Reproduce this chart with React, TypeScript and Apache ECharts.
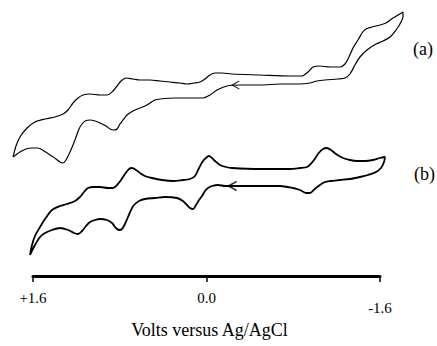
import React, { useEffect, useRef } from "react";
import * as echarts from "echarts";

// Potential (V vs Ag/AgCl), current (arbitrary units, offset per trace)
const curveA: [number, number][] = [
  [1.784, 119], [1.757, 130], [1.72, 139], [1.655, 148], [1.582, 154], [1.489, 157], [1.397, 159],
  [1.323, 162], [1.277, 166], [1.231, 173], [1.185, 178], [1.139, 181], [1.074, 182], [0.982, 181],
  [0.918, 181], [0.862, 185], [0.825, 190], [0.788, 195], [0.742, 198], [0.678, 197], [0.613, 196],
  [0.521, 196], [0.429, 195], [0.337, 194], [0.244, 193], [0.18, 192], [0.115, 193], [0.06, 194],
  [0.014, 197], [-0.032, 201], [-0.078, 203], [-0.143, 203], [-0.235, 202], [-0.493, 201],
  [-0.77, 200], [-0.88, 200], [-0.936, 204], [-0.982, 209], [-1.046, 210], [-1.139, 209],
  [-1.231, 209], [-1.277, 212], [-1.314, 219], [-1.351, 228], [-1.397, 236], [-1.434, 243],
  [-1.471, 247], [-1.526, 249], [-1.6, 251], [-1.655, 253], [-1.72, 258], [-1.766, 261], [-1.812, 264],
  [-1.812, 259], [-1.784, 252], [-1.748, 246], [-1.692, 239], [-1.628, 235], [-1.563, 232],
  [-1.48, 226], [-1.415, 219], [-1.369, 211], [-1.323, 202], [-1.277, 198], [-1.212, 197],
  [-1.093, 196], [-1.019, 195], [-0.952, 193], [-0.862, 192], [-0.678, 192], [-0.493, 191],
  [-0.309, 191], [-0.189, 190], [-0.097, 186], [-0.032, 181], [0.032, 178], [0.152, 178],
  [0.29, 178], [0.429, 177], [0.475, 176], [0.521, 173], [0.567, 170], [0.613, 168], [0.678, 165],
  [0.733, 161], [0.77, 156], [0.798, 152], [0.825, 147], [0.853, 146], [0.89, 147], [0.927, 150],
  [0.982, 153], [1.028, 155], [1.074, 156], [1.12, 155], [1.148, 152], [1.176, 147], [1.203, 139],
  [1.231, 131], [1.259, 124], [1.296, 116], [1.323, 113], [1.351, 114], [1.388, 117], [1.443, 121],
  [1.499, 125], [1.554, 128], [1.609, 128], [1.665, 127], [1.72, 124], [1.784, 119],
];

const curveB: [number, number][] = [
  [1.628, 21], [1.609, 31], [1.582, 40], [1.535, 49], [1.489, 57], [1.425, 66], [1.351, 70],
  [1.286, 72], [1.213, 75], [1.167, 79], [1.13, 84], [1.093, 88], [1.037, 89], [0.982, 89],
  [0.908, 88], [0.862, 88], [0.825, 91], [0.788, 96], [0.752, 102], [0.715, 107], [0.687, 108],
  [0.65, 106], [0.613, 103], [0.567, 100], [0.503, 98], [0.41, 96], [0.309, 95], [0.217, 96],
  [0.152, 97], [0.106, 100], [0.069, 108], [0.032, 115], [-0.005, 119], [-0.023, 120],
  [-0.051, 118], [-0.078, 115], [-0.124, 111], [-0.18, 109], [-0.235, 108], [-0.493, 107],
  [-0.77, 107], [-0.862, 108], [-0.927, 109], [-0.961, 112], [-0.998, 117], [-1.035, 123],
  [-1.074, 127], [-1.111, 128], [-1.148, 126], [-1.194, 122], [-1.259, 118], [-1.323, 116],
  [-1.388, 115], [-1.462, 115], [-1.535, 116], [-1.6, 118], [-1.646, 119],
  [-1.637, 114], [-1.609, 108], [-1.563, 104], [-1.489, 101], [-1.415, 99], [-1.323, 97],
  [-1.231, 96], [-1.139, 95], [-1.093, 94], [-1.046, 91], [-0.998, 87], [-0.952, 83], [-0.918, 83],
  [-0.862, 86], [-0.798, 88], [-0.678, 90], [-0.493, 90], [-0.309, 90], [-0.171, 90], [-0.106, 91],
  [-0.051, 90], [-0.014, 88], [0.014, 85], [0.041, 80], [0.069, 76], [0.097, 71], [0.124, 67],
  [0.152, 68], [0.189, 72], [0.217, 75], [0.272, 78], [0.383, 79], [0.475, 78], [0.567, 77],
  [0.622, 75], [0.669, 71], [0.696, 66], [0.724, 59], [0.752, 52], [0.779, 47], [0.807, 46],
  [0.835, 48], [0.871, 53], [0.918, 56], [0.982, 57], [1.028, 56], [1.074, 54], [1.111, 50],
  [1.148, 45], [1.185, 42], [1.222, 43], [1.277, 46], [1.351, 48], [1.425, 46], [1.489, 43],
  [1.535, 39], [1.582, 31], [1.628, 21],
];

// scan-direction arrow positions
const arrowA: [number, number][] = [[-0.27, 191]];
const arrowB: [number, number][] = [[-0.24, 90]];

const tickLabels: Record<string, string> = { "1.6": "{n|+1.6}", "0": "{n|0.0}", "-1.6": "{low|-1.6}" };
const traceLabels = ["(a)", "(b)"];

const SERIF = "Liberation Serif";

// axis geometry: ±1.6 V spans x = 33 … 380 px; data axis extends to ±1.9 V
const PX_PER_V = 347 / 3.2;
const EXT = 0.3 * PX_PER_V;

export default function App() {
  const ref = useRef<HTMLDivElement>(null);
  useEffect(() => {
    if (!ref.current) return;
    const chart = echarts.init(ref.current, null, { renderer: "svg" });
    const chevron = "path://M10,0 L0,5 L10,10";
    chart.setOption({
      animation: false,
      backgroundColor: "#ffffff",
      textStyle: { fontFamily: SERIF },
      grid: [
        { left: 33, right: 57, top: 0, bottom: 70 },
        { left: 33 - EXT, right: 57 - EXT, top: 0, bottom: 70 },
      ],
      xAxis: [
        {
          type: "value",
          gridIndex: 0,
          min: -1.6,
          max: 1.6,
          interval: 1.6,
          inverse: true,
          name: "Volts versus Ag/AgCl",
          nameLocation: "middle",
          nameGap: 45,
          nameTextStyle: { fontFamily: SERIF, fontSize: 18, color: "#000", padding: [0, 0, 0, 6] },
          axisLine: { show: true, lineStyle: { color: "#000", width: 3 } },
          axisTick: { show: true, length: 6, lineStyle: { color: "#000", width: 1.5 } },
          splitLine: { show: false },
          axisLabel: {
            margin: 14,
            fontFamily: SERIF,
            fontSize: 15,
            color: "#000",
            formatter: (v: number) => tickLabels[String(v)] ?? String(v),
            rich: {
              n: { fontFamily: SERIF, fontSize: 15, color: "#000" },
              low: { fontFamily: SERIF, fontSize: 15, color: "#000", padding: [10, 0, 0, 0] },
            },
          },
        },
        {
          type: "value",
          gridIndex: 1,
          min: -1.9,
          max: 1.9,
          inverse: true,
          show: false,
        },
      ],
      yAxis: [
        { type: "value", gridIndex: 0, min: 0, max: 276, show: false },
        { type: "value", gridIndex: 1, min: 0, max: 276, show: false },
      ],
      series: [
        {
          type: "line",
          xAxisIndex: 1,
          yAxisIndex: 1,
          data: curveA,
          smooth: 0.3,
          showSymbol: false,
          lineStyle: { color: "#000", width: 1.2 },
        },
        {
          type: "line",
          xAxisIndex: 1,
          yAxisIndex: 1,
          data: curveB,
          smooth: 0.3,
          showSymbol: false,
          lineStyle: { color: "#000", width: 1.8 },
        },
        {
          type: "scatter",
          xAxisIndex: 1,
          yAxisIndex: 1,
          data: arrowA,
          symbol: chevron,
          symbolSize: [7, 8],
          itemStyle: { color: "none", borderColor: "#000", borderWidth: 1.3 },
        },
        {
          type: "scatter",
          xAxisIndex: 1,
          yAxisIndex: 1,
          data: arrowB,
          symbol: chevron,
          symbolSize: [8, 9],
          itemStyle: { color: "none", borderColor: "#000", borderWidth: 1.6 },
        },
      ],
      graphic: [
        {
          type: "text",
          left: 413,
          top: 40,
          style: { text: traceLabels[0], fontFamily: SERIF, fontSize: 18, fill: "#000" },
        },
        {
          type: "text",
          left: 414,
          top: 165,
          style: { text: traceLabels[1], fontFamily: SERIF, fontSize: 18, fill: "#000" },
        },
      ],
    });
    return () => chart.dispose();
  }, []);
  return (
    <div
      ref={ref}
      style={{ position: "fixed", left: 0, top: 0, width: 437, height: 346, background: "#fff" }}
    />
  );
}
